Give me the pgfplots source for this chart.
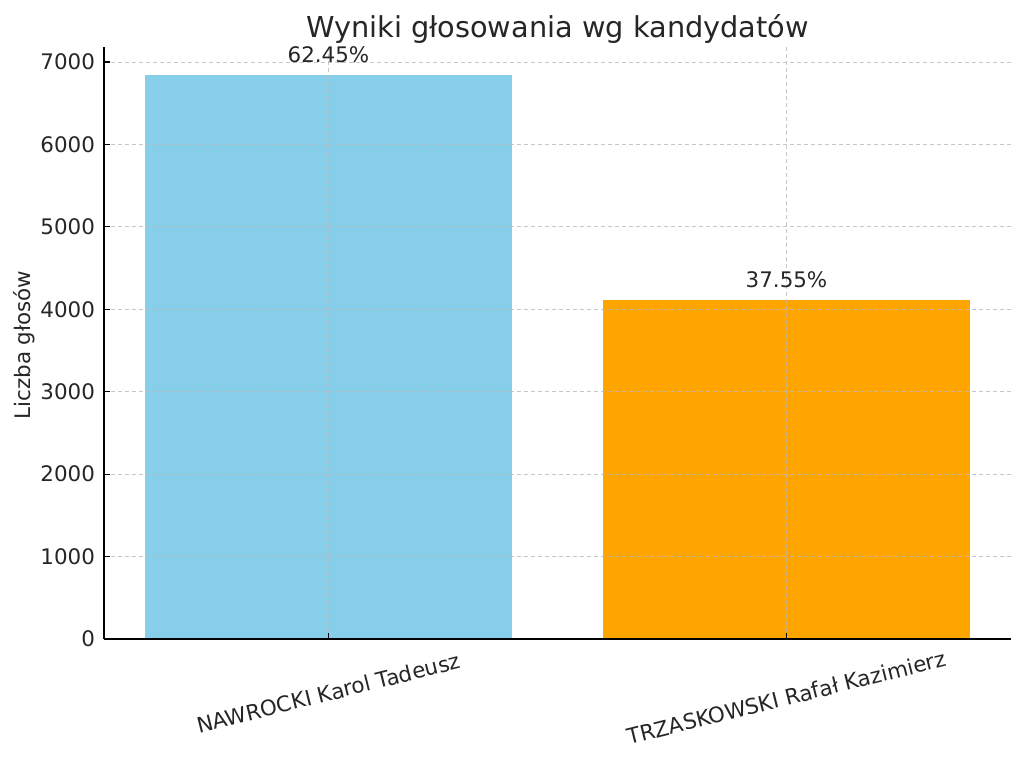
\documentclass[border=0pt]{standalone}
\usepackage{fontspec}
\setmainfont{DejaVu Sans}
\usepackage{pgfplots}
\pgfplotsset{compat=1.18}
\definecolor{skyblue}{RGB}{135,206,235}
\definecolor{mplorange}{RGB}{255,165,0}
\definecolor{txt}{RGB}{38,38,38}
\newcommand{\lbl}{\fontsize{10.7}{12.8}\selectfont}
\begin{document}
\begin{tikzpicture}
  \path[use as bounding box] (-52pt,-63pt) rectangle (460pt,319.5pt);
  \begin{axis}[
      at={(0,0)}, anchor=south west,
      scale only axis, width=453.5pt, height=296pt,
      ybar, bar width=0.8, bar shift=0pt,
      xmin=-0.49, xmax=1.49, ymin=0, ymax=7182,
      axis x line*=bottom, axis y line*=left,
      axis line style={-, line width=0.8pt, black},
      xtick={0,1},
      xticklabels={NAWROCKI Karol Tadeusz, TRZASKOWSKI Rafał Kazimierz},
      ytick={0,1000,...,7000},
      scaled y ticks=false,
      /pgf/number format/assume math mode=true,
      /pgf/number format/1000 sep={},
      tick style={black, line width=0.6pt},
      major tick length=3pt,
      tick align=inside,
      xmajorgrids, ymajorgrids,
      grid style={gray!55, dashed, dash pattern=on 2.2pt off 1.3pt, line width=0.4pt, opacity=0.8},
      axis on top,
      x tick label style={font=\lbl, text=txt, rotate=14, anchor=center,
        xshift={-(27pt+2.25pt*\ticknum)*sin(14)},
        yshift={-(27pt+2.25pt*\ticknum)*cos(14)}},
      y tick label style={font=\lbl, text=txt, xshift=-1pt},
      ylabel={Liczba głosów},
      ylabel style={font=\lbl, text=txt, at={(axis description cs:0,0.5)}, anchor=center, yshift=40pt, xshift=-1pt},
      title={Wyniki głosowania wg kandydatów},
      title style={font=\fontsize{14.4}{17}\selectfont, text=txt, at={(0.5,1)}, anchor=base, yshift=-1.5pt},
      nodes near coords={\pgfplotspointmeta},
      point meta=explicit symbolic,
      nodes near coords style={font=\lbl, text=txt, anchor=base, yshift=6.3pt},
    ]
    \addplot[fill=skyblue, draw=none] coordinates {(0,6840) [62.45\%]};
    \addplot[fill=mplorange, draw=none] coordinates {(1,4113) [37.55\%]};
  \end{axis}
\end{tikzpicture}
\end{document}
